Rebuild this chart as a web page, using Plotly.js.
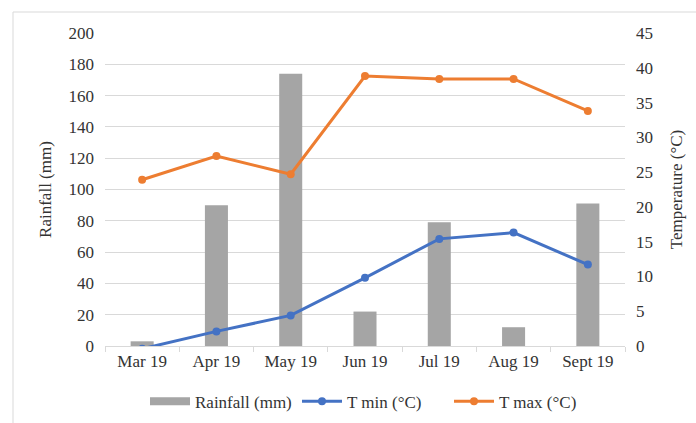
<!DOCTYPE html>
<html>
<head>
<meta charset="utf-8">
<script src="https://cdn.plot.ly/plotly-3.0.1.min.js"></script>
<style>
  html, body { margin: 0; padding: 0; background: #fff; }
  #chart { width: 696px; height: 423px; }
</style>
</head>
<body>
<div id="chart"></div>
<script>
// Monthly rainfall and temperature, March–September 2019
const months = ['Mar 19', 'Apr 19', 'May 19', 'Jun 19', 'Jul 19', 'Aug 19', 'Sept 19'];
const rainfall = [3, 90, 174, 22, 79, 12, 91];          // mm
const tMin = [-0.4, 2.1, 4.4, 9.8, 15.4, 16.3, 11.7];   // °C
const tMax = [23.9, 27.3, 24.7, 38.8, 38.4, 38.4, 33.8]; // °C

const serif = 'Liberation Serif, Times New Roman, serif';
const textColor = '#333333';
const gridColor = '#d9d9d9';
const rainColor = '#a5a5a5';

const traces = [
  {
    type: 'bar', name: 'Rainfall (mm)', x: months, y: rainfall,
    marker: { color: rainColor }, width: 0.31, yaxis: 'y', showlegend: false
  },
  // legend key for the rainfall bars, drawn as a wide swatch
  {
    type: 'scatter', mode: 'lines', name: 'Rainfall (mm)', x: [null], y: [null],
    line: { color: rainColor, width: 8 }, yaxis: 'y', hoverinfo: 'skip'
  },
  {
    type: 'scatter', mode: 'lines+markers', name: 'T min (°C)', x: months, y: tMin,
    line: { color: '#4472c4', width: 3 }, marker: { color: '#4472c4', size: 8 }, yaxis: 'y2'
  },
  {
    type: 'scatter', mode: 'lines+markers', name: 'T max (°C)', x: months, y: tMax,
    line: { color: '#ed7d31', width: 3 }, marker: { color: '#ed7d31', size: 8 }, yaxis: 'y2'
  }
];

const layout = {
  width: 696, height: 423,
  margin: { l: 105, r: 71, t: 33, b: 77, autoexpand: false },
  paper_bgcolor: '#fff', plot_bgcolor: '#fff',
  font: { family: serif, size: 17, color: textColor },
  showlegend: true,
  legend: {
    orientation: 'h', x: (145 - 105) / 520, xanchor: 'left', y: -0.178, yanchor: 'middle',
    entrywidth: 97, entrywidthmode: 'pixels',
    font: { family: serif, size: 17, color: textColor }, itemwidth: 40, traceorder: 'normal'
  },
  xaxis: {
    type: 'category', showgrid: false, showline: true, linecolor: gridColor, linewidth: 1,
    ticks: 'outside', tickson: 'boundaries', ticklen: 5, tickcolor: gridColor,
    tickfont: { family: serif, size: 17, color: textColor }, fixedrange: true
  },
  yaxis: {
    range: [0, 200], dtick: 20, showgrid: true, gridcolor: gridColor, gridwidth: 1,
    zeroline: false, showline: false, ticks: '', ticklabelstandoff: 10,
    tickfont: { family: serif, size: 17, color: textColor },
    title: { text: 'Rainfall (mm)', font: { family: serif, size: 17, color: textColor }, standoff: 12 }
  },
  yaxis2: {
    range: [0, 45], dtick: 5, overlaying: 'y', side: 'right', showgrid: false,
    zeroline: false, showline: false, ticks: '', ticklabelstandoff: 10,
    tickfont: { family: serif, size: 17, color: textColor },
    title: { text: 'Temperature (°C)', font: { family: serif, size: 17, color: textColor }, standoff: 18 }
  },
  shapes: [
    {
      type: 'rect', xref: 'paper', yref: 'paper', layer: 'below',
      x0: (13 - 105) / 520, x1: (720 - 105) / 520,
      y0: (346 - 440) / 313, y1: (346 - 12) / 313,
      line: { color: gridColor, width: 1 }, fillcolor: 'rgba(0,0,0,0)'
    }
  ]
};

Plotly.newPlot('chart', traces, layout, { displayModeBar: false, staticPlot: true });
</script>
</body>
</html>
